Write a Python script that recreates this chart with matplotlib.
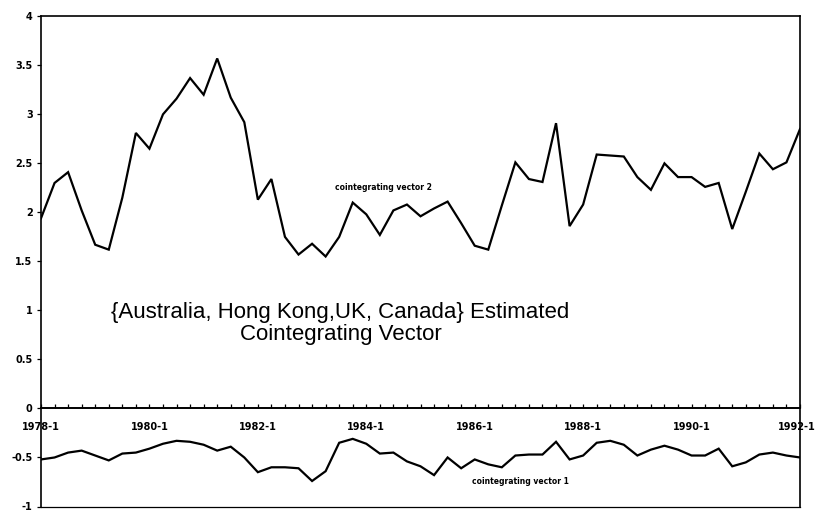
import matplotlib
matplotlib.use("Agg")
import matplotlib.pyplot as plt
import matplotlib.transforms as mtransforms
from matplotlib.ticker import MultipleLocator, FixedLocator, FixedFormatter

plt.rcParams['font.family'] = ['Liberation Sans', 'DejaVu Sans']

# Quarterly observations, 1978-1 through 1992-1
quarters = list(range(57))

vector2 = [1.94, 2.30, 2.41, 2.02, 1.67, 1.62, 2.15, 2.81, 2.65, 3.00,
           3.16, 3.37, 3.20, 3.57, 3.17, 2.92, 2.13, 2.34, 1.75, 1.57,
           1.68, 1.55, 1.75, 2.10, 1.98, 1.77, 2.02, 2.08, 1.96, 2.04,
           2.11, 1.89, 1.66, 1.62, 2.07, 2.51, 2.34, 2.31, 2.91, 1.86,
           2.08, 2.59, 2.58, 2.57, 2.36, 2.23, 2.50, 2.36, 2.36, 2.26,
           2.30, 1.83, 2.21, 2.60, 2.44, 2.51, 2.85]

vector1 = [-0.52, -0.50, -0.45, -0.43, -0.48, -0.53, -0.46, -0.45, -0.41, -0.36,
           -0.33, -0.34, -0.37, -0.43, -0.39, -0.50, -0.65, -0.60, -0.60, -0.61,
           -0.74, -0.64, -0.35, -0.31, -0.36, -0.46, -0.45, -0.54, -0.59, -0.68,
           -0.50, -0.61, -0.52, -0.57, -0.60, -0.48, -0.47, -0.47, -0.34, -0.52,
           -0.48, -0.35, -0.33, -0.37, -0.48, -0.42, -0.38, -0.42, -0.48, -0.48,
           -0.41, -0.59, -0.55, -0.47, -0.45, -0.48, -0.50]

year_ticks = [0, 8, 16, 24, 32, 40, 48, 56]
year_labels = ['1978-1', '1980-1', '1982-1', '1984-1',
               '1986-1', '1988-1', '1990-1', '1992-1']

y_ticks = [-1, -0.5, 0, 0.5, 1, 1.5, 2, 2.5, 3, 3.5, 4]
y_labels = ['-1', '-0.5', '0', '0.5', '1', '1.5', '2', '2.5', '3', '3.5', '4']

tick_font = dict(family='DejaVu Sans', weight='bold', size=7)

W, H = 817, 512
fig = plt.figure(figsize=(W / 100, H / 100), dpi=100)
left, right, top, bottom = 41, 800, 16.3, 506.5
ax = fig.add_axes([left / W, (H - bottom) / H, (right - left) / W, (bottom - top) / H])

ax.plot(quarters, vector2, color='black', lw=1.6, solid_joinstyle='miter')
ax.plot(quarters, vector1, color='black', lw=1.6, solid_joinstyle='miter')

ax.set_xlim(0, 56)
ax.set_ylim(-1, 4)

# x axis runs along zero
ax.spines['bottom'].set_position(('data', 0))
ax.spines['bottom'].set_linewidth(1.4)
for s in ('left', 'right', 'top'):
    ax.spines[s].set_linewidth(1.2)
ax.plot([0, 56], [-1, -1], color='black', lw=0.9, clip_on=False)

ax.xaxis.set_major_locator(FixedLocator(year_ticks))
ax.xaxis.set_major_formatter(FixedFormatter(year_labels))
ax.xaxis.set_minor_locator(MultipleLocator(1))
ax.tick_params(axis='x', which='both', direction='in', length=3, width=0.9, pad=9.5)
xlabels = ax.get_xticklabels()
for lbl in xlabels:
    lbl.set_fontproperties(tick_font)
# pull the last year label slightly inward so it stays on the canvas
xlabels[-1].set_transform(xlabels[-1].get_transform() +
                          mtransforms.ScaledTranslation(-3 / 100, 0, fig.dpi_scale_trans))

ax.yaxis.set_major_locator(FixedLocator(y_ticks))
ax.yaxis.set_major_formatter(FixedFormatter(y_labels))
ax.tick_params(axis='y', which='major', direction='out', length=3, width=0.9, pad=3)
for lbl in ax.get_yticklabels():
    lbl.set_fontproperties(tick_font)

ax.text(25.3, 2.25, 'cointegrating vector 2', family='DejaVu Sans',
        fontsize=5.5, fontweight='bold', ha='center', va='center')
ax.text(35.4, -0.75, 'cointegrating vector 1', family='DejaVu Sans',
        fontsize=5.5, fontweight='bold', ha='center', va='center')
ax.text(22.1, 0.87, '{Australia, Hong Kong,UK, Canada} Estimated\nCointegrating Vector',
        fontsize=16, ha='center', va='center', linespacing=1.05)

fig.savefig('out.png', dpi=100, facecolor='white')
